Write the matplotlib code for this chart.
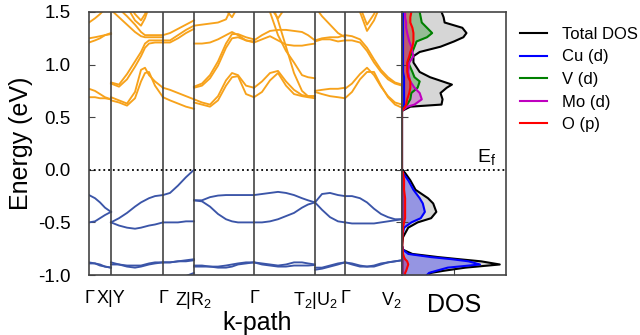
import numpy as np
import matplotlib
matplotlib.use('agg')
import matplotlib.pyplot as plt

plt.rcParams['font.family'] = ['Liberation Sans', 'DejaVu Sans']
plt.rcParams['mathtext.default'] = 'regular'

# high symmetry points along the path
kpt_pos = [0, 22, 74, 105, 165, 226, 256, 313]
kpt_labels = ['Γ', 'X|Y', 'Γ', 'Z|R$_2$', 'Γ', 'T$_2$|U$_2$', 'Γ', 'V$_2$']
kpt_lines = [22, 74, 105, 165, 226, 256]

# --- segment Γ-X
k_GX = [0, 6, 11, 16, 22]
val_GX = [[-0.24, -0.27, -0.31, -0.36, -0.40],
          [-0.50, -0.49, -0.46, -0.43, -0.40],
          [-0.88, -0.89, -0.90, -0.92, -0.93],
          [-0.89, -0.89, -0.91, -0.92, -0.93]]
con_GX = [[0.77, 0.75, 0.72, 0.69, 0.67],
          [0.69, 0.69, 0.68, 0.68, 0.67],
          [1.21, 1.23, 1.25, 1.28, 1.30],
          [1.25, 1.26, 1.27, 1.28, 1.29],
          [1.40, 1.44, 1.48, 1.53, 1.58]]

# --- segment Y-Γ
k_YG = [22, 30, 38, 46, 52, 56, 60, 66, 74]
val_YG = [[-0.50, -0.46, -0.41, -0.35, -0.31, -0.29, -0.27, -0.25, -0.24],
          [-0.50, -0.53, -0.55, -0.56, -0.55, -0.54, -0.53, -0.52, -0.50],
          [-0.88, -0.90, -0.92, -0.93, -0.92, -0.91, -0.90, -0.89, -0.88],
          [-0.90, -0.90, -0.91, -0.91, -0.91, -0.90, -0.89, -0.88, -0.88]]
con_YG = [[0.83, 0.81, 0.91, 1.03, 1.12, 1.20, 1.23, 1.23, 1.23],
          [0.82, 0.79, 0.86, 0.98, 1.08, 1.16, 1.20, 1.21, 1.21],
          [0.69, 0.66, 0.63, 0.74, 0.95, 0.97, 0.90, 0.84, 0.78],
          [0.66, 0.64, 0.61, 0.68, 0.84, 0.92, 0.93, 0.80, 0.69],
          [1.52, 1.45, 1.38, 1.31, 1.27, 1.26, 1.26, 1.26, 1.26],
          [1.60, 1.53, 1.46, 1.38, 1.31, 1.28, 1.28, 1.28, 1.28],
          [1.65, 1.65, 1.55, 1.42, 1.37, 1.44, 1.55, 1.65, 1.65],
          [1.65, 1.65, 1.60, 1.48, 1.42, 1.48, 1.60, 1.65, 1.65]]

# --- segment Γ-Z
k_GZ = [74, 81, 89, 97, 105]
val_GZ = [[-0.24, -0.22, -0.15, -0.07, 0.00],
          [-0.50, -0.50, -0.50, -0.49, -0.49],
          [-0.88, -0.88, -0.87, -0.86, -0.85],
          [-0.88, -0.88, -0.87, -0.87, -0.86],
          [-1.10, -1.07, -1.04, -1.01, -0.98]]
con_GZ = [[0.78, 0.76, 0.73, 0.70, 0.67],
          [0.69, 0.66, 0.63, 0.60, 0.58],
          [1.21, 1.21, 1.25, 1.30, 1.34],
          [1.23, 1.23, 1.28, 1.33, 1.37],
          [1.28, 1.30, 1.34, 1.38, 1.42]]

# --- segment R2-Γ
k_RG = [105, 113, 121, 129, 137, 143, 149, 157, 165]
val_RG = [[-0.29, -0.29, -0.26, -0.245, -0.24, -0.24, -0.24, -0.24, -0.24],
          [-0.29, -0.30, -0.35, -0.42, -0.47, -0.49, -0.50, -0.50, -0.50],
          [-0.91, -0.91, -0.92, -0.93, -0.93, -0.92, -0.90, -0.89, -0.88],
          [-0.92, -0.92, -0.92, -0.92, -0.91, -0.90, -0.89, -0.88, -0.88]]
con_RG = [[0.67, 0.64, 0.62, 0.70, 0.85, 0.92, 0.90, 0.80, 0.78],
          [0.64, 0.62, 0.60, 0.66, 0.80, 0.88, 0.89, 0.72, 0.69],
          [0.79, 0.82, 0.90, 1.03, 1.20, 1.29, 1.29, 1.26, 1.24],
          [0.78, 0.80, 0.87, 0.99, 1.16, 1.25, 1.26, 1.23, 1.21],
          [1.20, 1.20, 1.21, 1.24, 1.28, 1.31, 1.28, 1.23, 1.22],
          [1.37, 1.38, 1.39, 1.40, 1.43, 1.55, 1.65, 1.65, 1.65],
          [1.65, 1.65, 1.65, 1.60, 1.52, 1.45, 1.55, 1.65, 1.65]]

# --- segment Γ-T2
k_GT = [165, 173, 181, 189, 197, 205, 213, 219, 226]
val_GT = [[-0.24, -0.23, -0.22, -0.21, -0.22, -0.24, -0.27, -0.29, -0.31],
          [-0.50, -0.50, -0.49, -0.47, -0.44, -0.41, -0.36, -0.33, -0.31],
          [-0.88, -0.90, -0.91, -0.92, -0.92, -0.91, -0.91, -0.91, -0.905],
          [-0.88, -0.89, -0.90, -0.91, -0.90, -0.88, -0.88, -0.89, -0.90]]
con_GT = [[0.78, 0.84, 0.92, 0.94, 0.84, 0.76, 0.71, 0.70, 0.70],
          [0.69, 0.74, 0.85, 0.92, 0.80, 0.72, 0.70, 0.69, 0.68],
          [1.65, 1.65, 1.50, 1.28, 1.13, 1.02, 0.90, 0.88, 0.87],
          [1.65, 1.65, 1.62, 1.42, 1.17, 0.92, 0.75, 0.70, 0.70],
          [1.23, 1.28, 1.32, 1.33, 1.33, 1.32, 1.31, 1.28, 1.23],
          [1.21, 1.24, 1.27, 1.23, 1.19, 1.18, 1.18, 1.19, 1.20],
          [1.65, 1.65, 1.55, 1.44, 1.55, 1.65, 1.65, 1.65, 1.65]]

# --- segment U2-Γ
k_UG = [226, 233, 241, 249, 256]
val_UG = [[-0.31, -0.23, -0.22, -0.24, -0.25],
          [-0.31, -0.38, -0.45, -0.49, -0.50],
          [-0.95, -0.94, -0.92, -0.90, -0.88],
          [-0.93, -0.93, -0.91, -0.89, -0.88]]
con_UG = [[0.75, 0.76, 0.77, 0.77, 0.78],
          [0.74, 0.72, 0.70, 0.69, 0.68],
          [1.23, 1.25, 1.26, 1.26, 1.28],
          [1.22, 1.24, 1.24, 1.22, 1.23],
          [1.55, 1.46, 1.38, 1.30, 1.26]]

# --- segment Γ-V2
k_GV = [256, 263, 271, 278, 285, 292, 299, 306, 313]
val_GV = [[-0.25, -0.25, -0.27, -0.31, -0.37, -0.42, -0.45, -0.47, -0.47],
          [-0.50, -0.51, -0.51, -0.51, -0.51, -0.50, -0.49, -0.48, -0.47],
          [-0.88, -0.90, -0.92, -0.92, -0.91, -0.89, -0.88, -0.87, -0.86],
          [-0.88, -0.89, -0.91, -0.92, -0.92, -0.90, -0.88, -0.87, -0.86]]
con_GV = [[0.77, 0.82, 0.91, 0.97, 0.90, 0.79, 0.70, 0.64, 0.62],
          [0.68, 0.74, 0.86, 0.93, 0.93, 0.80, 0.69, 0.62, 0.59],
          [1.28, 1.27, 1.24, 1.16, 1.05, 0.95, 0.88, 0.83, 0.81],
          [1.23, 1.23, 1.21, 1.13, 1.02, 0.93, 0.86, 0.82, 0.80],
          [1.65, 1.62, 1.50, 1.32, 1.42, 1.58, 1.65, 1.65, 1.65],
          [1.65, 1.65, 1.55, 1.38, 1.48, 1.62, 1.65, 1.65, 1.65]]

# --- projected DOS (arb. units)
dos_E = [-1.00, -0.98, -0.96, -0.93, -0.90, -0.87, -0.85, -0.83, -0.80, -0.76,
         -0.72, -0.64, -0.55, -0.50, -0.46, -0.40, -0.32, -0.27, -0.19, -0.10,
         -0.03, 0.00, 0.56, 0.60, 0.62, 0.67, 0.73, 0.78, 0.81, 0.84,
         0.88, 0.93, 1.02, 1.08, 1.12, 1.17, 1.22, 1.26, 1.30, 1.35,
         1.40, 1.45, 1.50]
dos_total = [25, 28, 40, 61, 94, 76, 55, 35, 10, 1,
             0, 1, 6, 15, 28, 33, 30, 25, 13, 8,
             3, 0, 0, 8, 38, 39, 37, 43, 48, 39,
             27, 17, 11, 11, 17, 37, 50, 59, 62, 58,
             41, 40, 38]
dos_cu = [24, 26, 33, 44, 75, 64, 48, 28, 6, 1,
          0, 0, 2, 9, 18, 22, 20, 17, 11, 6,
          1, 0, 0, 1, 2, 2, 2, 2, 2, 2,
          2, 1, 1, 1, 1, 1, 1, 1, 1, 1,
          1, 1, 1]
dos_v = [0.5, 0.5, 0.5, 0.5, 0.5, 0.5, 0.5, 0.5, 0.5, 0.3,
         0, 0, 0.3, 0.5, 0.5, 0.5, 0.5, 0.5, 0.5, 0.5,
         0.3, 0, 0, 3, 5, 8, 9, 15, 16, 17,
         12, 10, 6, 8, 10, 12, 14, 24, 29, 24,
         19, 18, 17]
dos_mo = [0.5, 0.5, 0.5, 0.5, 0.5, 0.5, 0.5, 0.5, 0.5, 0.3,
          0, 0, 0.3, 0.5, 0.5, 0.5, 0.5, 0.5, 0.5, 0.5,
          0.3, 0, 0, 5, 12, 19, 17, 12, 10, 8,
          7, 6, 7, 11, 10, 9, 7, 6, 5, 4,
          4, 3, 3]
dos_o = [3, 3, 4, 5, 6, 5, 3, 2, 1, 0.5,
         0.3, 0.5, 1, 2, 3, 3, 3, 3, 2, 2,
         1, 0, 0, 3, 4, 5, 7, 8, 8, 8,
         6, 5, 5, 7, 8, 10, 11, 11, 11, 10,
         8, 8, 9]

orange = '#f7a21b'
blue = '#3b55a8'
spine_c = '#444444'

fig = plt.figure(figsize=(6.4, 3.35), dpi=100)
W, H = 640., 335.
ax = fig.add_axes([89 / W, 1 - 275 / H, (402 - 89) / W, (275 - 12) / H])
axd = fig.add_axes([402 / W, 1 - 275 / H, (506 - 402) / W, (275 - 12) / H])

segments = [(k_GX, val_GX, con_GX), (k_YG, val_YG, con_YG), (k_GZ, val_GZ, con_GZ),
            (k_RG, val_RG, con_RG), (k_GT, val_GT, con_GT), (k_UG, val_UG, con_UG),
            (k_GV, val_GV, con_GV)]
for kk, vb, cb in segments:
    for b in vb:
        ax.plot(kk, b, color=blue, lw=1.35)
    for b in cb:
        ax.plot(kk, b, color=orange, lw=1.35)

for xk in kpt_lines:
    ax.axvline(xk, color=spine_c, lw=1.2)
ax.axhline(0, color='k', ls=':', lw=1.3)

ax.set_xlim(kpt_pos[0], kpt_pos[-1])
ax.set_ylim(-1.0, 1.5)
ax.set_xticks(kpt_pos)
ax.set_xticklabels(kpt_labels, fontsize=13)
ax.get_xticklabels()[-1].set_ha('right')
ax.tick_params(axis='x', length=0, pad=11)
ax.set_yticks([-1.0, -0.5, 0.0, 0.5, 1.0, 1.5])
ax.set_yticklabels(['-1.0', '-0.5', '0.0', '0.5', '1.0', '1.5'], fontsize=13.5)
ax.tick_params(axis='y', direction='in', length=4, pad=13, color=spine_c)
ax.set_ylabel('Energy (eV)', fontsize=18, labelpad=4)
ax.set_xlabel('k-path', fontsize=18)
ax.xaxis.set_label_coords(0.537, -0.135)
for s in ax.spines.values():
    s.set_color(spine_c)
    s.set_linewidth(1.2)

# DOS panel
axd.fill_betweenx(dos_E, 0, dos_total, color='#d6d6d6', lw=0)
axd.fill_betweenx(dos_E, 0, dos_v, color='green', alpha=0.3, lw=0)
axd.fill_betweenx(dos_E, 0, dos_mo, color='m', alpha=0.3, lw=0)
axd.fill_betweenx(dos_E, 0, dos_o, color='red', alpha=0.3, lw=0)
axd.fill_betweenx(dos_E, 0, dos_cu, color='blue', alpha=0.3, lw=0)
h1, = axd.plot(dos_total, dos_E, color='k', lw=1.5, label='Total DOS')
h2, = axd.plot(dos_cu, dos_E, color='blue', lw=1.5, label='Cu (d)')
h3, = axd.plot(dos_v, dos_E, color='green', lw=1.5, label='V (d)')
h4, = axd.plot(dos_mo, dos_E, color='m', lw=1.5, label='Mo (d)')
h5, = axd.plot(dos_o, dos_E, color='red', lw=1.5, label='O (p)')
axd.axhline(0, color='k', ls=':', lw=1.3)
axd.text(72, 0.03, 'E$_f$', fontsize=14, ha='left', va='bottom')

axd.set_xlim(0, 100)
axd.set_ylim(-1.0, 1.5)
axd.set_xticks([50])
axd.set_xticklabels([])
axd.tick_params(axis='x', direction='in', length=4, color=spine_c)
axd.set_yticks([-0.5, 0.0, 0.5, 1.0])
axd.set_yticklabels([])
axd.tick_params(axis='y', direction='inout', length=9, color=spine_c)
axd.set_xlabel('DOS', fontsize=18)
axd.xaxis.set_label_coords(0.5, -0.068)
for s in axd.spines.values():
    s.set_color(spine_c)
    s.set_linewidth(1.2)

fig.legend(handles=[h1, h2, h3, h4, h5], loc='upper left',
           bbox_to_anchor=(520 / W, 1 - 27 / H), frameon=False, fontsize=12,
           borderpad=0, borderaxespad=0, handlelength=1.6, handletextpad=0.9,
           labelspacing=0.45)

fig.savefig('out.png', dpi=100)
